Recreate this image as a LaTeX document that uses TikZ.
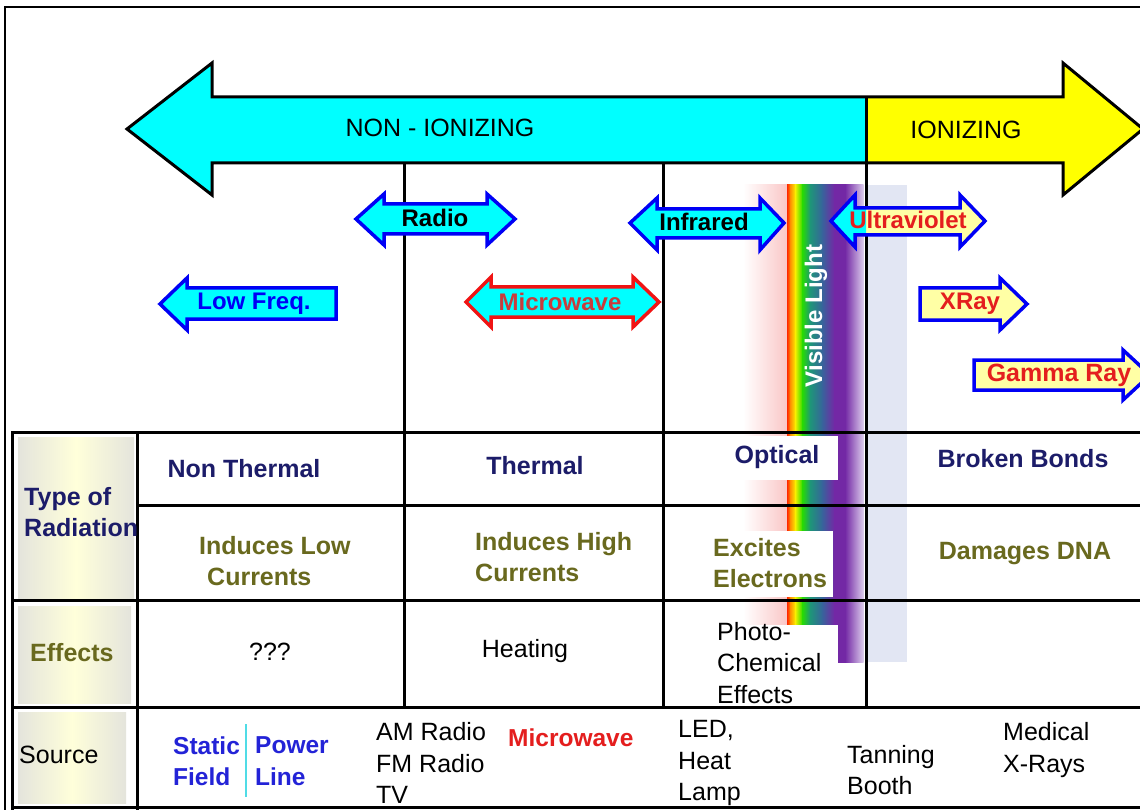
\documentclass[tikz,border=0pt]{standalone}
\usepackage{fontspec}
\setmainfont{Liberation Sans}
\definecolor{cyanc}{RGB}{0,255,255}
\definecolor{yelc}{RGB}{255,255,0}
\definecolor{navy}{RGB}{28,28,105}
\definecolor{olivetxt}{RGB}{105,105,30}
\definecolor{pyel}{RGB}{255,255,165}
\definecolor{lav}{RGB}{226,230,243}
\definecolor{pinkc}{RGB}{250,198,198}
\definecolor{srcblue}{RGB}{35,35,215}
\definecolor{txtred}{RGB}{228,30,30}
\definecolor{mwtxt}{RGB}{200,60,60}
\definecolor{arrblue}{RGB}{0,0,245}
\definecolor{arrred}{RGB}{240,20,20}
\definecolor{ggrey}{RGB}{228,228,220}
\definecolor{gyel}{RGB}{255,255,218}
\definecolor{rbred}{RGB}{255,40,0}
\definecolor{rborange}{RGB}{255,140,0}
\definecolor{rbyellow}{RGB}{250,240,0}
\definecolor{rbgreen}{RGB}{40,220,0}
\definecolor{rbteal}{RGB}{30,150,120}
\definecolor{rbblue}{RGB}{55,100,155}
\definecolor{rbpurple}{RGB}{115,40,165}
\definecolor{rblight}{RGB}{220,205,236}
\definecolor{srccyan}{RGB}{80,220,230}
\tikzset{
  tbl/.style={line width=3pt, black},
  barr/.style={line width=3.5pt, draw=arrblue, line join=miter},
  rarr/.style={line width=3.5pt, draw=arrred, line join=miter},
  bigtxt/.style={font=\fontsize{25}{30}\selectfont, inner sep=0},
  alab/.style={font=\fontsize{24}{28}\selectfont\bfseries, inner sep=0},
  tb/.style={font=\fontsize{25}{31.5}\selectfont\bfseries, inner sep=0, align=left},
  tbs/.style={font=\fontsize{24.5}{31.5}\selectfont\bfseries, inner sep=0, align=left},
  tr/.style={font=\fontsize{25}{31.5}\selectfont, inner sep=0, align=left},
}
\begin{document}
\begin{tikzpicture}[x=1pt,y=-1pt]
\clip (0,0) rectangle (1140,810);
\fill[white] (0,0) rectangle (1140,810);
% visible light band
\shade[left color=white, right color=pinkc] (743,185) rectangle (787.5,662);
\foreach \a/\b/\c/\d in {787/790/rbred/rborange, 790/795/rborange/rbyellow, 795/802/rbyellow/rbgreen, 802/810/rbgreen/rbteal, 810/822/rbteal/rbblue, 822/834/rbblue/rbpurple, 834/845/rbpurple/rbpurple, 845/863/rbpurple/rblight}
  \shade[left color=\c, right color=\d] (\a,185) rectangle (\b+0.6,662);
\fill[lav] (867,185) rectangle (907,662);
% first column gradients
\shade[left color=ggrey, right color=ggrey, middle color=gyel] (18,437) rectangle (134,598);
\shade[left color=ggrey, right color=ggrey, middle color=gyel] (18,606) rectangle (131,703);
\shade[left color=ggrey, right color=ggrey, middle color=gyel] (18,712) rectangle (126,803);
% white boxes over the band
\fill[white] (668,436) rectangle (838,480);
\fill[white] (668,531) rectangle (833,597);
\fill[white] (668,625) rectangle (838,704);
% frame
\draw[line width=2.5pt] (5,812) -- (5,7) -- (1142,7);
% table
\draw[tbl] (12,812) -- (12,432) -- (1142,432);
\draw[tbl] (137,432) -- (137,812);
\draw[tbl] (137,505) -- (1142,505);
\draw[tbl] (12,600) -- (1142,600);
\draw[tbl] (12,707) -- (1142,707);
\draw[tbl] (12,807) -- (1142,807);
\draw[tbl] (404,163) -- (404,707);
\draw[tbl] (663,163) -- (663,707);
\draw[tbl] (866,97) -- (866,707);
% big arrow
\fill[cyanc] (127,129) -- (212,63) -- (212,97) -- (866,97) -- (866,163) -- (212,163) -- (212,195) -- cycle;
\fill[yelc] (866,97) -- (1063,97) -- (1063,63) -- (1143,129) -- (1063,195) -- (1063,163) -- (866,163) -- cycle;
\draw[line width=3pt, line join=miter] (127,129) -- (212,63) -- (212,97) -- (1063,97) -- (1063,63) -- (1143,129) -- (1063,195) -- (1063,163) -- (212,163) -- (212,195) -- cycle;
\draw[line width=3pt] (866,97) -- (866,163);
% small arrows
\filldraw[barr, fill=cyanc] (160,304) -- (187,278) -- (187,288) -- (336,288) -- (336,319) -- (187,319) -- (187,330) -- cycle;
\filldraw[barr, fill=cyanc] (356,219) -- (384,194) -- (384,204) -- (487,204) -- (487,194) -- (515,219) -- (487,245) -- (487,234) -- (384,234) -- (384,245) -- cycle;
\filldraw[rarr, fill=cyanc] (466,302) -- (491,277) -- (491,287) -- (633,287) -- (633,277) -- (659,302) -- (633,327) -- (633,317) -- (491,317) -- (491,327) -- cycle;
\filldraw[barr, fill=cyanc] (630,223) -- (657,198) -- (657,209) -- (760,209) -- (760,198) -- (784,223) -- (760,250) -- (760,238) -- (657,238) -- (657,250) -- cycle;
\fill[pyel] (831,221) -- (855,195) -- (855,208) -- (960,208) -- (960,195) -- (985,221) -- (960,247) -- (960,235) -- (855,235) -- (855,247) -- cycle;
\begin{scope}
  \clip (820,180) rectangle (866,260);
  \fill[cyanc] (831,221) -- (855,195) -- (855,208) -- (960,208) -- (960,195) -- (985,221) -- (960,247) -- (960,235) -- (855,235) -- (855,247) -- cycle;
\end{scope}
\draw[barr] (831,221) -- (855,195) -- (855,208) -- (960,208) -- (960,195) -- (985,221) -- (960,247) -- (960,235) -- (855,235) -- (855,247) -- cycle;
\filldraw[barr, fill=pyel] (920,288) -- (1000,288) -- (1000,278) -- (1027,304) -- (1000,330) -- (1000,320) -- (920,320) -- cycle;
\filldraw[barr, fill=pyel] (974,360) -- (1123,360) -- (1123,350) -- (1150,375) -- (1123,400) -- (1123,390) -- (974,390) -- cycle;
% labels on arrows
\node[bigtxt] (nonion) at (440,128) {NON - IONIZING};
\node[bigtxt] (ion) at (966,130) {IONIZING};
\node[alab] (radio) at (435,218) {Radio};
\node[alab] (infra) at (704,222) {Infrared};
\node[alab, text=txtred] (uv) at (908,220) {Ultraviolet};
\node[alab, text=arrblue] (lowf) at (254,304) {Low Freq.};
\node[alab, text=mwtxt] (micro) at (560,302) {Microwave};
\node[alab, text=txtred] (xray) at (970,304) {XRay};
\node[alab, text=txtred, font=\fontsize{25}{28}\selectfont\bfseries] (gamma) at (1059,375) {Gamma Ray};
\node[alab, text=white, rotate=90] (vis) at (816,316) {Visible Light};
% table texts
\node[tb, text=navy, anchor=west] (type) at (24,512) {Type of\\Radiation};
\node[tb, text=navy] (nonth) at (244,469) {Non Thermal};
\node[tb, text=navy] (therm) at (535,466) {Thermal};
\node[tb, text=navy] (opt) at (777,457) {Optical};
\node[tb, text=navy] (broken) at (1023,459) {Broken Bonds};
\node[tb, text=olivetxt, anchor=west] (indlow) at (199,561) {Induces Low\\\hspace*{8pt}Currents};
\node[tb, text=olivetxt, anchor=west] (indhigh) at (475,557) {Induces High\\Currents};
\node[tb, text=olivetxt, anchor=west] (excite) at (713,563) {Excites\\Electrons};
\node[tb, text=olivetxt] (dna) at (1025,554) {Damages DNA};
\node[tb, text=olivetxt, anchor=west] (eff) at (30,653) {Effects};
\node[tr] (qqq) at (270,652) {???};
\node[tr] (heat) at (525,651) {Heating};
\node[tr, anchor=west] (photo) at (717,663) {Photo-\\Chemical\\Effects};
\node[tr, anchor=west] (src) at (19,755) {Source};
\node[tbs, text=srcblue, anchor=west] (static) at (173,761) {Static\\Field};
\draw[srccyan, line width=1.2pt] (246,724) -- (246,797);
\node[tbs, text=srcblue, anchor=west] (power) at (255,761) {Power\\Line};
\node[tr, anchor=west] (am) at (376,763) {AM Radio\\FM Radio\\TV};
\node[tbs, text=txtred, anchor=west] (mwsrc) at (508,738) {Microwave};
\node[tr, anchor=west] (led) at (678,763) {LED,\\Heat\\Lamp};
\node[tr, anchor=west] (tan) at (847,770) {Tanning\\Booth};
\node[tr, anchor=west] (med) at (1003,750) {Medical\\X-Rays};
\end{tikzpicture}
\end{document}
